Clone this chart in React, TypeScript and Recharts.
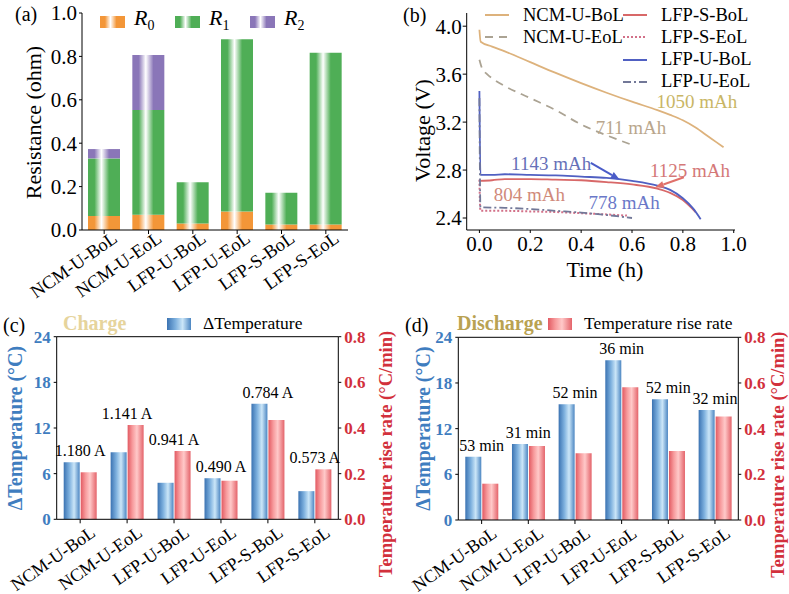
import React from 'react';
import {
    BarChart,
    ComposedChart,
    LineChart,
    Bar,
    Line,
    XAxis,
    YAxis,
    Legend,
    Label,
    LabelList,
    ReferenceLine,
    ReferenceDot
} from 'recharts';

const FONT = '"Liberation Serif", "Times New Roman", serif';

const cells = ['NCM-U-BoL', 'NCM-U-EoL', 'LFP-U-BoL', 'LFP-U-EoL', 'LFP-S-BoL', 'LFP-S-EoL'];

// (a) resistance parts (ohm)
const r0 = [0.065, 0.07, 0.03, 0.085, 0.025, 0.025];
const r1 = [0.265, 0.483, 0.19, 0.794, 0.147, 0.792];
const r2 = [0.043, 0.253, 0, 0, 0, 0];
const resTicks = [0, 0.2, 0.4, 0.6, 0.8, 1.0];

// (b) discharge curves, [time (h), voltage (V)]
const ncmUBoL = [[0, 3.97], [0.005, 3.87], [0.05, 3.83], [0.1, 3.79], [0.2, 3.7], [0.3, 3.61], [0.4, 3.525], [0.5, 3.445], [0.6, 3.37], [0.7, 3.3], [0.75, 3.26], [0.8, 3.215], [0.85, 3.155], [0.9, 3.08], [0.93, 3.035], [0.96, 2.99]];
const ncmUEoL = [[0, 3.72], [0.01, 3.65], [0.03, 3.6], [0.06, 3.55], [0.1, 3.5], [0.2, 3.4], [0.3, 3.3], [0.4, 3.18], [0.5, 3.09], [0.6, 3.01]];
const lfpSBoL = [[0, 2.71], [0.05, 2.715], [0.1, 2.725], [0.2, 2.725], [0.3, 2.72], [0.4, 2.715], [0.5, 2.7], [0.6, 2.68], [0.7, 2.645], [0.75, 2.61], [0.8, 2.55], [0.85, 2.45]];
const lfpSEoL = [[0, 2.72], [0.004, 2.46], [0.1, 2.46], [0.2, 2.455], [0.3, 2.45], [0.4, 2.44], [0.5, 2.43], [0.58, 2.42]];
const lfpUBoL = [[0, 3.46], [0.004, 2.76], [0.05, 2.76], [0.1, 2.765], [0.2, 2.76], [0.3, 2.755], [0.4, 2.745], [0.5, 2.735], [0.6, 2.71], [0.7, 2.67], [0.75, 2.635], [0.8, 2.565], [0.84, 2.48], [0.87, 2.39]];
const lfpUEoL = [[0, 3.4], [0.004, 2.49], [0.1, 2.485], [0.2, 2.475], [0.3, 2.46], [0.4, 2.445], [0.5, 2.425], [0.6, 2.4]];
const capLabels = ['1050 mAh', '711 mAh', '1143 mAh', '1125 mAh', '804 mAh', '778 mAh'];
const timeTicks = [0, 0.2, 0.4, 0.6, 0.8, 1.0];
const voltTicks = [2.4, 2.8, 3.2, 3.6, 4.0];

// (c) charge
const chargeDT = [7.5, 8.8, 4.8, 5.4, 15.2, 3.7];
const chargeRate = [0.206, 0.413, 0.299, 0.169, 0.435, 0.219];
const chargeCurrent = ['1.180 A', '1.141 A', '0.941 A', '0.490 A', '0.784 A', '0.573 A'];

// (d) discharge
const dischargeDT = [8.3, 10.0, 15.2, 21.0, 15.85, 14.45];
const dischargeRate = [0.159, 0.324, 0.292, 0.581, 0.302, 0.453];
const dischargeTime = ['53 min', '31 min', '52 min', '36 min', '52 min', '32 min'];

const tempTicks = [0, 6, 12, 18, 24];
const rateTicks = [0, 0.2, 0.4, 0.6, 0.8];

const BLUE = '#3F7DBF';
const RED = '#D2303C';

const toPts = (arr: number[][]) => arr.map(([t, v]) => ({ t, v }));

const resData = cells.map((c, i) => ({ cell: c, r0: r0[i], r1: r1[i], r2: r2[i] }));
// right axis is 0..0.8 against 0..24 on the left, so rate*30 puts both on one scale
const chargeData = cells.map((c, i) => ({
    cell: c, dT: chargeDT[i], rate: chargeRate[i],
    top: Math.max(chargeDT[i], chargeRate[i] * 30), note: chargeCurrent[i]
}));
const dischargeData = cells.map((c, i) => ({
    cell: c, dT: dischargeDT[i], rate: dischargeRate[i],
    top: Math.max(dischargeDT[i], dischargeRate[i] * 30), note: dischargeTime[i]
}));

const resColors: Record<string, string> = { r0: '#F39638', r1: '#4FAE56', r2: '#8A76B8' };

const stripe = (c: string) =>
    `linear-gradient(to right, ${c} 0%, ${c} 20%, #ffffff 42%, ${c} 66%, ${c} 100%)`;
const blueCss = 'linear-gradient(to right, #3B73B2 0%, #7DB0DE 35%, #CBE6F8 65%, #4C86C2 100%)';
const redCss = 'linear-gradient(to right, #E25A62 0%, #F79A9C 30%, #FFC9C9 58%, #E4636A 100%)';

const RotTick = (props: any) => {
    const { x, y, payload, size, dx, dy } = props;
    const px = x + dx;
    const py = y + dy;
    return (
        <text x={px} y={py} transform={`rotate(-35 ${px} ${py})`} textAnchor="end"
            dominantBaseline="central" fontSize={size} fill="#000">
            {payload.value}
        </text>
    );
};

const VTitle = (props: any) => {
    const { viewBox, text, dx, dy = 0, size, color, weight = 'normal' } = props;
    const cx = viewBox.x + dx;
    const cy = viewBox.y + viewBox.height / 2 + dy;
    return (
        <text x={cx} y={cy} transform={`rotate(-90 ${cx} ${cy})`} textAnchor="middle"
            dominantBaseline="central" fontSize={size} fill={color} fontWeight={weight}>
            {text}
        </text>
    );
};

const Arrow = (props: any) => {
    const { x1, y1, x2, y2, stroke } = props;
    const a = Math.atan2(y2 - y1, x2 - x1);
    const bx = x2 - 9 * Math.cos(a);
    const by = y2 - 9 * Math.sin(a);
    const s = 3.5;
    return (
        <g>
            <line x1={x1} y1={y1} x2={bx} y2={by} stroke={stroke} strokeWidth={2} />
            <polygon
                points={`${x2},${y2} ${bx + s * Math.sin(a)},${by - s * Math.cos(a)} ${bx - s * Math.sin(a)},${by + s * Math.cos(a)}`}
                fill={stroke} />
        </g>
    );
};

const axisBlack = { stroke: '#000', strokeWidth: 1 };

const PanelA = () => (
    <div style={{ position: 'absolute', left: 0, top: 0 }}>
        <BarChart width={395} height={300} data={resData} barSize={32}
            margin={{ top: 13, right: 47, left: 32, bottom: 10 }}>
            <defs>
                {Object.keys(resColors).map((k) => (
                    <linearGradient key={k} id={`gA_${k}`} x1="0" y1="0" x2="1" y2="0">
                        <stop offset="0" stopColor={resColors[k]} />
                        <stop offset="0.2" stopColor={resColors[k]} />
                        <stop offset="0.42" stopColor="#ffffff" />
                        <stop offset="0.66" stopColor={resColors[k]} />
                        <stop offset="1" stopColor={resColors[k]} />
                    </linearGradient>
                ))}
            </defs>
            <XAxis dataKey="cell" height={60} interval={0} tickSize={4} axisLine={axisBlack} tickLine={axisBlack}
                tick={(p: any) => <RotTick {...p} size={18.5} dx={11} dy={0} />} />
            <YAxis width={50} domain={[0, 1]} ticks={resTicks} tickSize={3} tickMargin={2}
                tickFormatter={(v: number) => v.toFixed(1)} axisLine={axisBlack} tickLine={axisBlack}
                tick={{ fill: '#000', fontSize: 21 }}>
                <Label content={(p: any) => <VTitle {...p} text="Resistance (ohm)" dx={1} dy={1} size={22} color="#000" />} />
            </YAxis>
            <Legend layout="horizontal" verticalAlign="middle" align="center"
                wrapperStyle={{ left: 0, top: 0, width: 395, height: 30 }}
                content={() => (
                    <div style={{ position: 'relative', width: 395, height: 30 }}>
                        {['r0', 'r1', 'r2'].map((k, i) => (
                            <div key={k} style={{ position: 'absolute', left: 100 + i * 75, top: 6, display: 'flex', alignItems: 'center' }}>
                                <div style={{ width: 25, height: 12, background: stripe(resColors[k]) }} />
                                <span style={{ marginLeft: 9, fontSize: 22, fontStyle: 'italic', lineHeight: '24px' }}>
                                    R<sub style={{ fontStyle: 'normal', fontSize: 14 }}>{i}</sub>
                                </span>
                            </div>
                        ))}
                    </div>
                )} />
            <Bar dataKey="r0" name="R0" stackId="s" fill="url(#gA_r0)" isAnimationActive={false} />
            <Bar dataKey="r1" name="R1" stackId="s" fill="url(#gA_r1)" isAnimationActive={false} />
            <Bar dataKey="r2" name="R2" stackId="s" fill="url(#gA_r2)" isAnimationActive={false} />
        </BarChart>
    </div>
);

const curveSeries = [
    { name: 'NCM-U-BoL', pts: ncmUBoL, color: '#DDB27C', dash: undefined, col: 0, row: 0 },
    { name: 'NCM-U-EoL', pts: ncmUEoL, color: '#ABA393', dash: '8 6', col: 0, row: 1 },
    { name: 'LFP-S-BoL', pts: lfpSBoL, color: '#D86868', dash: undefined, col: 1, row: 0 },
    { name: 'LFP-S-EoL', pts: lfpSEoL, color: '#D27088', dash: '2 2', col: 1, row: 1 },
    { name: 'LFP-U-BoL', pts: lfpUBoL, color: '#5060C2', dash: undefined, col: 1, row: 2 },
    { name: 'LFP-U-EoL', pts: lfpUEoL, color: '#727898', dash: '8 3 2 3', col: 1, row: 3 }
];

const PanelB = () => (
    <div style={{ position: 'absolute', left: 395, top: 0 }}>
        <LineChart width={394} height={300} margin={{ top: 13, right: 54, left: 21.7, bottom: 25 }}>
            <XAxis type="number" dataKey="t" domain={[-0.05, 1.005]} ticks={timeTicks} height={45}
                tickFormatter={(v: number) => v.toFixed(1)} tickSize={3} tickMargin={3}
                axisLine={axisBlack} tickLine={axisBlack} tick={{ fill: '#000', fontSize: 21 }}>
                <Label content={(p: any) => (
                    <text x={p.viewBox.x + p.viewBox.width / 2 + 4} y={p.viewBox.y + 39} textAnchor="middle"
                        dominantBaseline="central" fontSize={22} fill="#000">Time (h)</text>
                )} />
            </XAxis>
            <YAxis type="number" domain={[2.3, 4.11]} ticks={voltTicks} width={50} tickSize={4} tickMargin={1}
                tickFormatter={(v: number) => v.toFixed(1)} axisLine={axisBlack} tickLine={axisBlack}
                tick={{ fill: '#000', fontSize: 21 }}>
                <Label content={(p: any) => <VTitle {...p} text="Voltage (V)" dx={6} dy={9} size={22} color="#000" />} />
            </YAxis>
            <Legend layout="horizontal" verticalAlign="middle" align="center"
                wrapperStyle={{ left: 0, top: 0, width: 394, height: 100 }}
                content={() => (
                    <div style={{ position: 'relative', width: 394, height: 100 }}>
                        {curveSeries.map((s) => (
                            <div key={s.name} style={{ position: 'absolute', left: s.col ? 228 : 90, top: 4 + s.row * 22.3, display: 'flex', alignItems: 'center', height: 22 }}>
                                <svg width={24} height={6}>
                                    <line x1={0} y1={3} x2={24} y2={3} stroke={s.color} strokeWidth={2} strokeDasharray={s.dash} />
                                </svg>
                                <span style={{ marginLeft: 14, fontSize: 18.5, whiteSpace: 'nowrap' }}>{s.name}</span>
                            </div>
                        ))}
                    </div>
                )} />
            {curveSeries.map((s) => (
                <Line key={s.name} data={toPts(s.pts)} dataKey="v" name={s.name} type="monotone"
                    stroke={s.color} strokeWidth={s.dash === '2 2' ? 2 : 1.8} strokeDasharray={s.dash}
                    dot={false} activeDot={false} isAnimationActive={false} />
            ))}
            <ReferenceLine segment={[{ x: 0.438, y: 2.86 }, { x: 0.552, y: 2.72 }]} stroke="#4A5CC8" shape={Arrow} />
            <ReferenceLine segment={[{ x: 0.804, y: 2.74 }, { x: 0.69, y: 2.655 }]} stroke="#E0706A" shape={Arrow} />
            <ReferenceDot x={0.855} y={3.37} r={0} fill="none" stroke="none"
                label={{ value: capLabels[0], fill: '#C9B665', fontSize: 19, position: 'center' }} />
            <ReferenceDot x={0.596} y={3.16} r={0} fill="none" stroke="none"
                label={{ value: capLabels[1], fill: '#B9A68C', fontSize: 19, position: 'center' }} />
            <ReferenceDot x={0.282} y={2.86} r={0} fill="none" stroke="none"
                label={{ value: capLabels[2], fill: '#6670B8', fontSize: 19, position: 'center' }} />
            <ReferenceDot x={0.828} y={2.8} r={0} fill="none" stroke="none"
                label={{ value: capLabels[3], fill: '#D47878', fontSize: 19, position: 'center' }} />
            <ReferenceDot x={0.196} y={2.594} r={0} fill="none" stroke="none"
                label={{ value: capLabels[4], fill: '#D08A7A', fontSize: 19, position: 'center' }} />
            <ReferenceDot x={0.569} y={2.535} r={0} fill="none" stroke="none"
                label={{ value: capLabels[5], fill: '#6A78C8', fontSize: 19, position: 'center' }} />
        </LineChart>
    </div>
);

const TempPanel = (props: any) => {
    const { data, left, top, margin, id, title, titleColor, titleLeft, swatchLeft, legendText, swatch, rightDx, leftDx } = props;
    return (
        <div style={{ position: 'absolute', left, top }}>
            <ComposedChart width={left ? 394 : 395} height={294} data={data} barGap={1} margin={margin}>
                <defs>
                    <linearGradient id={`gB_${id}`} x1="0" y1="0" x2="1" y2="0">
                        <stop offset="0" stopColor="#3B73B2" />
                        <stop offset="0.35" stopColor="#7DB0DE" />
                        <stop offset="0.65" stopColor="#CBE6F8" />
                        <stop offset="1" stopColor="#4C86C2" />
                    </linearGradient>
                    <linearGradient id={`gR_${id}`} x1="0" y1="0" x2="1" y2="0">
                        <stop offset="0" stopColor="#E25A62" />
                        <stop offset="0.3" stopColor="#F79A9C" />
                        <stop offset="0.58" stopColor="#FFC9C9" />
                        <stop offset="1" stopColor="#E4636A" />
                    </linearGradient>
                </defs>
                <XAxis dataKey="cell" height={60} interval={0} tickSize={4} axisLine={axisBlack} tickLine={axisBlack}
                    tick={(p: any) => <RotTick {...p} size={18} dx={13} dy={5} />} />
                <YAxis yAxisId="left" width={40} domain={[0, 24]} ticks={tempTicks} tickSize={3} tickMargin={3}
                    axisLine={axisBlack} tickLine={axisBlack}
                    tick={{ fill: BLUE, fontSize: 17, fontWeight: 'bold' }}>
                    <Label content={(p: any) => <VTitle {...p} text="ΔTemperature (°C)" dx={leftDx} dy={0} size={20} color={BLUE} weight="bold" />} />
                </YAxis>
                <YAxis yAxisId="right" orientation="right" width={40} domain={[0, 0.8]} ticks={rateTicks}
                    tickFormatter={(v: number) => v.toFixed(1)} tickSize={3} tickMargin={3}
                    axisLine={axisBlack} tickLine={axisBlack}
                    tick={{ fill: RED, fontSize: 17, fontWeight: 'bold' }}>
                    <Label content={(p: any) => <VTitle {...p} text="Temperature rise rate (°C/min)" dx={rightDx} dy={26} size={18.5} color={RED} weight="bold" />} />
                </YAxis>
                <ReferenceLine yAxisId="left" y={24} stroke="#000" strokeWidth={1} />
                <Legend layout="horizontal" verticalAlign="middle" align="center"
                    wrapperStyle={{ left: 0, top: 0, width: 394, height: 36 }}
                    content={() => (
                        <div style={{ position: 'relative', width: 394, height: 36 }}>
                            <span style={{ position: 'absolute', left: titleLeft, top: 11, fontSize: 20, fontWeight: 'bold', color: titleColor, lineHeight: '24px' }}>{title}</span>
                            <div style={{ position: 'absolute', left: swatchLeft, top: 18, width: 24, height: 12, background: swatch }} />
                            <span style={{ position: 'absolute', left: swatchLeft + 36, top: 11, fontSize: 17.5, lineHeight: '24px', whiteSpace: 'nowrap' }}>{legendText}</span>
                        </div>
                    )} />
                <Bar yAxisId="left" dataKey="dT" name="ΔTemperature" barSize={16} fill={`url(#gB_${id})`} isAnimationActive={false} />
                <Bar yAxisId="right" dataKey="rate" name="Temperature rise rate" barSize={16} fill={`url(#gR_${id})`} isAnimationActive={false} />
                <Line yAxisId="left" dataKey="top" stroke="none" dot={false} activeDot={false} legendType="none" isAnimationActive={false}>
                    <LabelList dataKey="note" position="top" offset={6} fill="#000" fontSize={16} />
                </Line>
            </ComposedChart>
        </div>
    );
};

const letter = (left: number, top: number) => ({
    position: 'absolute' as const, left, top, fontSize: 20, lineHeight: '20px'
});

export default function App() {
    return (
        <div style={{ position: 'absolute', left: 0, top: 0, width: 789, height: 594, background: '#fff', fontFamily: FONT, overflow: 'hidden' }}>
            <style>{`svg text, svg tspan { font-family: ${FONT} !important; } .recharts-surface { overflow: visible; }`}</style>
            <PanelA />
            <PanelB />
            <TempPanel data={chargeData} left={0} top={300} id="c"
                margin={{ top: 36.7, right: 16.7, left: 16.7, bottom: 14.7 }}
                title="Charge" titleColor="#E6D49C" titleLeft={63} swatchLeft={167}
                legendText="ΔTemperature" swatch={blueCss} leftDx={-1.7} rightDx={47.5} />
            <TempPanel data={dischargeData} left={395} top={300} id="d"
                margin={{ top: 37.3, right: 10.7, left: 23.3, bottom: 14 }}
                title="Discharge" titleColor="#B9A252" titleLeft={62} swatchLeft={153}
                legendText="Temperature rise rate" swatch={redCss} leftDx={4.7} rightDx={39.7} />
            <div style={letter(15, 4)}>(a)</div>
            <div style={letter(403, 5)}>(b)</div>
            <div style={letter(3, 315)}>(c)</div>
            <div style={letter(405, 315)}>(d)</div>
        </div>
    );
}
